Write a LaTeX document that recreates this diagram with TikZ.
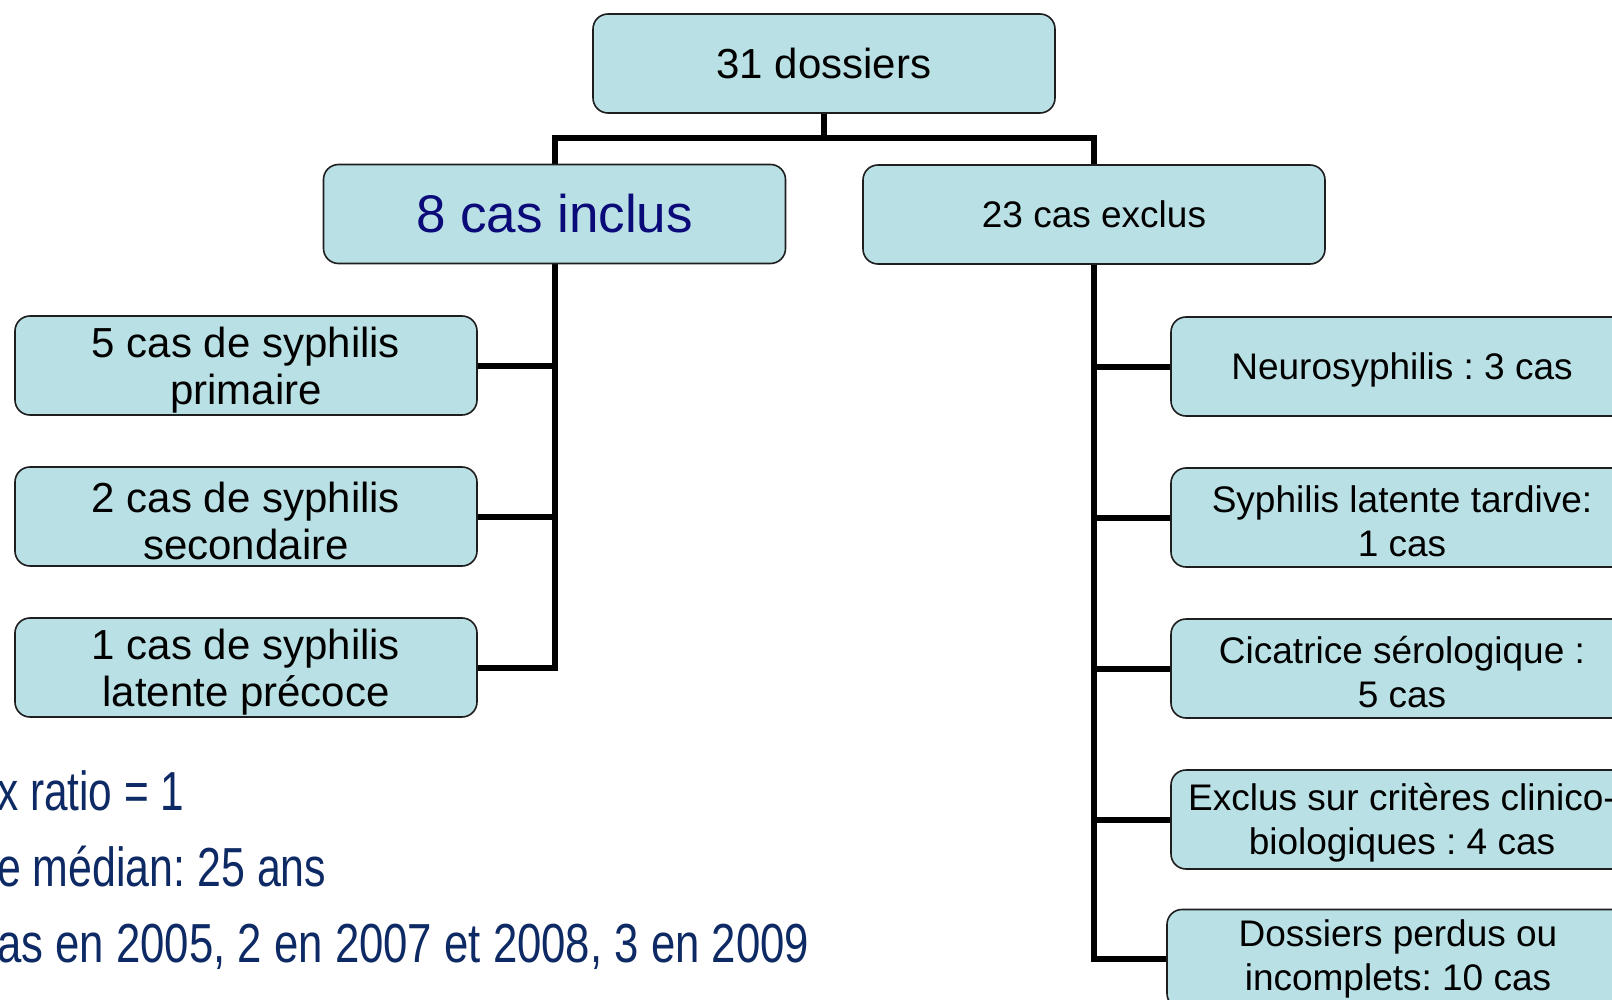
\documentclass[tikz,border=0pt]{standalone}
\usepackage{fontspec}
\setmainfont{Liberation Sans}
\usepackage{graphicx}
\usetikzlibrary{backgrounds}
\frenchspacing
\definecolor{boxfill}{RGB}{185,224,228}
\definecolor{boxline}{RGB}{30,30,30}
\definecolor{inclus}{RGB}{10,10,120}
\definecolor{navytext}{RGB}{14,42,100}
\newcommand\fsz[2]{\fontsize{#1}{#2}\selectfont}
\newcommand\lowstrut{\rule{0pt}{40pt}}
\newcommand\rstrut{\rule{0pt}{34pt}}
\tikzset{
  box/.style={draw=boxline, line width=1.6pt, fill=boxfill, rounded corners=15pt,
    minimum width=462pt, minimum height=99pt, inner sep=0pt, align=center, text=black},
  conn/.style={line width=6pt, draw=black},
  note/.style={anchor=base west, inner sep=0pt, text=navytext, font={\fsz{55}{60}}}
}
\begin{document}
\begin{tikzpicture}[x=1pt, y=-1pt]
\useasboundingbox (0,0) rectangle (1612,1000);

\node[box, font={\fsz{42}{47}}] (top) at (824,63.5) {31 dossiers};
\node[box, font={\fsz{53}{60}}, text=inclus] (inc) at (554.5,214) {8 cas inclus};
\node[box, font={\fsz{37}{44}}] (exc) at (1094,214.5) {23 cas exclus};

\node[box, font={\fsz{42}{47}}] (l1) at (246,365.5) {\lowstrut 5 cas de syphilis\\primaire};
\node[box, font={\fsz{42}{47}}] (l2) at (246,516.5) {\lowstrut 2 cas de syphilis\\secondaire};
\node[box, font={\fsz{42}{47}}] (l3) at (246,667.5) {\lowstrut 1 cas de syphilis\\latente précoce};

\node[box, font={\fsz{37}{44}}] (r1) at (1402,366.5) {\rstrut Neurosyphilis : 3 cas};
\node[box, font={\fsz{37}{44}}] (r2) at (1402,517.5) {\rstrut Syphilis latente tardive:\\1 cas};
\node[box, font={\fsz{37}{44}}] (r3) at (1402,668.5) {\rstrut Cicatrice sérologique :\\5 cas};
\node[box, font={\fsz{37}{44}}] (r4) at (1402,819.5) {\rstrut Exclus sur critères clinico-\\biologiques : 4 cas};
\node[box, font={\fsz{37}{44}}] (r5) at (1398,959) {Dossiers perdus ou\\incomplets: 10 cas};

\coordinate (bar) at (824,138);

\begin{pgfonlayer}{background}
\draw[conn] (top.south) -- (bar);
\draw[conn] (inc.north) -- (inc.north |- bar) -- (exc.north |- bar) -- (exc.north);
\draw[conn] (inc.south) -- (inc.south |- l3.east) -- (l3.east);
\draw[conn] (l1.east) -- (l1.east -| inc.south);
\draw[conn] (l2.east) -- (l2.east -| inc.south);
\draw[conn] (exc.south) -- (exc.south |- r5.west) -- (r5.west);
\draw[conn] (r1.west) -- (r1.west -| exc.south);
\draw[conn] (r2.west) -- (r2.west -| exc.south);
\draw[conn] (r3.west) -- (r3.west -| exc.south);
\draw[conn] (r4.west) -- (r4.west -| exc.south);
\end{pgfonlayer}

\node[note] (t1) at (-3,810) {\scalebox{0.77}[1]{x ratio = 1}};
\node[note] (t2) at (-3,886) {\scalebox{0.78}[1]{e médian: 25 ans}};
\node[note] (t3) at (-3,962) {\scalebox{0.795}[1]{as en 2005, 2 en 2007 et 2008, 3 en 2009}};
\end{tikzpicture}
\end{document}
